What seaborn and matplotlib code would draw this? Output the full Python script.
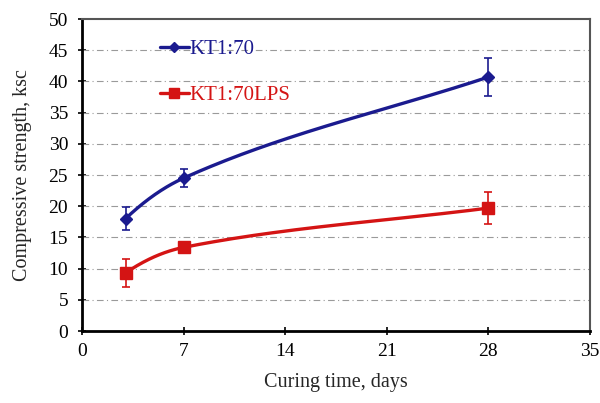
import numpy as np
import pandas as pd
import matplotlib
matplotlib.use("Agg")
import matplotlib.pyplot as plt
import seaborn as sns
from matplotlib.lines import Line2D

# Curing times and compressive strength results
days = [3, 7, 28]
kt_mean = [18.0, 24.5, 40.7]
kt_err = [1.8, 1.5, 3.0]
lps_mean = [9.3, 13.4, 19.7]
lps_err = [2.3, 0.6, 2.5]
series_names = ["KT1:70", "KT1:70LPS"]

x_ticks = [0, 7, 14, 21, 28, 35]
y_ticks = [0, 5, 10, 15, 20, 25, 30, 35, 40, 45, 50]


def smooth_curve(x, y, n=80):
    """Cubic Hermite smoothing through the measured points."""
    x = np.asarray(x, float)
    y = np.asarray(y, float)
    h = np.diff(x)
    d = np.diff(y) / h
    m = np.zeros_like(y)
    for k in range(1, len(x) - 1):
        m[k] = 2.0 / (1.0 / d[k - 1] + 1.0 / d[k])
    m[0] = 2 * d[0] - m[1]
    m[-1] = d[-1]
    xs_all, ys_all = [], []
    t = np.linspace(0, 1, n)
    for i in range(len(x) - 1):
        h00 = 2 * t**3 - 3 * t**2 + 1
        h10 = t**3 - 2 * t**2 + t
        h01 = -2 * t**3 + 3 * t**2
        h11 = t**3 - t**2
        ys = h00 * y[i] + h10 * h[i] * m[i] + h01 * y[i + 1] + h11 * h[i] * m[i + 1]
        xs = x[i] + t * h[i]
        xs_all.append(xs if i == 0 else xs[1:])
        ys_all.append(ys if i == 0 else ys[1:])
    return np.concatenate(xs_all), np.concatenate(ys_all)


sns.set_theme(style="white")
plt.rcParams["font.family"] = ["Liberation Serif", "DejaVu Serif"]

fig = plt.figure(figsize=(6.0, 4.03), dpi=100)
ax = fig.add_axes([82 / 600, 1 - 331 / 403, 508 / 600, 312 / 403])

navy = "#1b1b8f"
red = "#d41414"

for name, mean, err, color, marker, ms in [
    (series_names[0], kt_mean, kt_err, navy, "D", 6.5),
    (series_names[1], lps_mean, lps_err, red, "s", 8),
]:
    xs, ys = smooth_curve(days, mean)
    curve = pd.DataFrame({"x": xs, "y": ys})
    sns.lineplot(data=curve, x="x", y="y", ax=ax, color=color, lw=2.4,
                 sort=False, legend=False, zorder=3)
    ax.errorbar(days, mean, yerr=err, fmt=marker, color=color, ms=ms,
                ecolor=color, elinewidth=1.2, capsize=3, capthick=1.2, zorder=4)

ax.set_xlim(0, 35)
ax.set_ylim(0, 50)
ax.set_xticks(x_ticks)
ax.set_yticks(y_ticks)
ax.tick_params(axis="both", labelsize=14, colors="black", length=6, width=1.2,
               direction="inout", bottom=True, left=True)
ax.tick_params(axis="y", pad=7)
ax.tick_params(axis="x", pad=6)

for y in y_ticks[1:-1]:
    ax.axhline(y, color="#9a9a9a", lw=0.8, ls=(0, (6, 3, 1, 3)), zorder=1)

for side in ["left", "bottom"]:
    ax.spines[side].set_color("black")
    ax.spines[side].set_linewidth(2.0)
for side in ["top", "right"]:
    ax.spines[side].set_color("#555555")
    ax.spines[side].set_linewidth(1.5)

ax.set_xlabel("Curing time, days", fontsize=14.5, labelpad=9)
ax.set_ylabel("Compressive strength, ksc", fontsize=14.5, labelpad=12)

handles = [
    Line2D([0], [0], color=navy, lw=2.4, marker="D", ms=5.5),
    Line2D([0], [0], color=red, lw=2.4, marker="s", ms=6.5),
]
leg = ax.legend(handles, series_names, loc="upper left",
                bbox_to_anchor=(0.138, 0.96), frameon=False, fontsize=15,
                handlelength=1.35, handletextpad=0.05, labelspacing=1.25,
                borderaxespad=0)
leg.get_texts()[0].set_color(navy)
leg.get_texts()[1].set_color(red)

fig.savefig("out.png", dpi=100, facecolor="white")
